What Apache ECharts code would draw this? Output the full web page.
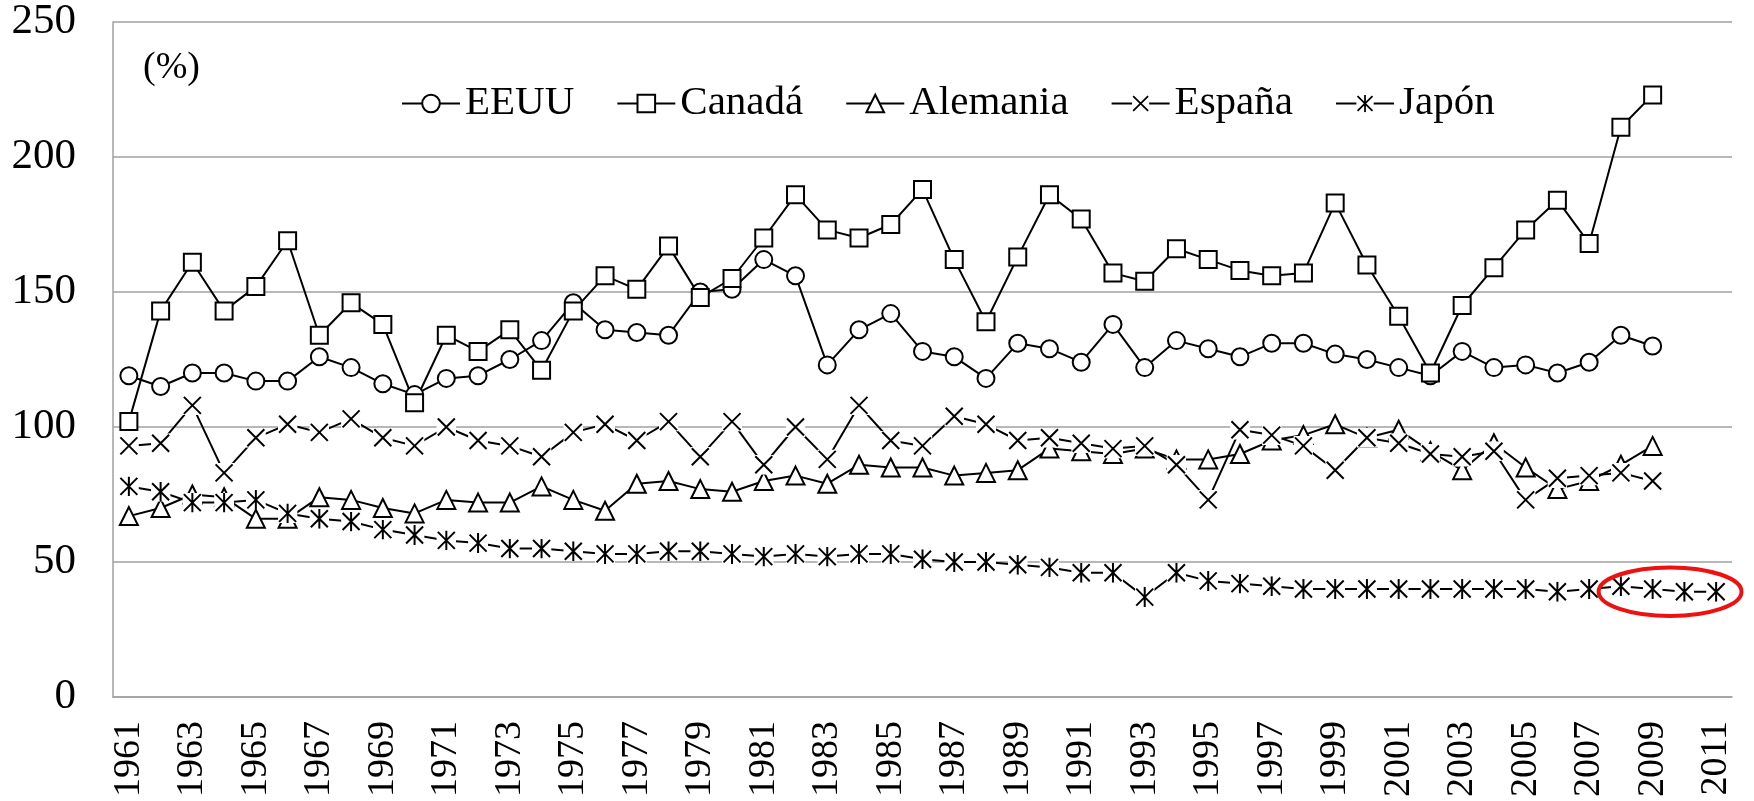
<!DOCTYPE html>
<html>
<head>
<meta charset="utf-8">
<style>
  html, body { margin: 0; padding: 0; background: #fff; }
  #chart { width: 1754px; height: 801px; }
</style>
<script src="https://cdn.jsdelivr.net/npm/echarts@6/dist/echarts.min.js"></script>
</head>
<body>
<div id="chart"></div>
<script>
var years = ["1961","1962","1963","1964","1965","1966","1967","1968","1969","1970",
  "1971","1972","1973","1974","1975","1976","1977","1978","1979","1980",
  "1981","1982","1983","1984","1985","1986","1987","1988","1989","1990",
  "1991","1992","1993","1994","1995","1996","1997","1998","1999","2000",
  "2001","2002","2003","2004","2005","2006","2007","2008","2009","2010","2011"];

var eeuu = [119,115,120,120,117,117,126,122,116,112,
  118,119,125,132,146,136,135,134,150,151,
  162,156,123,136,142,128,126,118,131,129,
  124,138,122,132,129,126,131,131,127,125,
  122,119,128,122,123,120,124,134,130,null,null];

var canada = [102,143,161,143,152,169,134,146,138,109,
  134,128,136,121,143,156,151,167,148,155,
  170,186,173,170,175,188,162,139,163,186,
  177,157,154,166,162,158,156,157,183,160,
  141,120,145,159,173,184,168,211,223,null,null];

var alemania = [67,70,75,74,66,66,74,73,70,68,
  73,72,72,78,73,69,79,80,77,76,
  80,82,79,86,85,85,82,83,84,92,
  91,90,92,88,88,90,95,97,101,96,
  99,91,84,94,85,77,80,86,93,null,null];

var espana = [93,94,108,83,96,101,98,103,96,93,
  100,95,93,89,98,101,95,102,89,102,
  86,100,88,108,95,93,104,101,95,96,
  94,92,93,86,73,99,97,93,84,96,
  94,90,89,91,73,81,82,83,80,null,null];

var japon = [78,76,72,72,73,68,66,65,62,60,
  58,57,55,55,54,53,53,54,54,53,
  52,53,52,53,53,51,50,50,49,48,
  46,46,37,46,43,42,41,40,40,40,
  40,40,40,40,40,39,40,41,40,39,39];

var yTicks = [0, 50, 100, 150, 200, 250];
var serif = "'Liberation Serif', 'Times New Roman', serif";

// marker with white background, like the spreadsheet draws it
function maskedMark(d) {
  var svg = '<svg xmlns="http://www.w3.org/2000/svg" width="20" height="20" viewBox="0 0 20 20">' +
    '<rect width="20" height="20" fill="#fff"/>' +
    '<path d="' + d + '" stroke="#000" stroke-width="2" fill="none"/></svg>';
  return 'image://data:image/svg+xml;charset=utf-8,' + encodeURIComponent(svg);
}
var crossMark = maskedMark("M1.5,1.5L18.5,18.5M18.5,1.5L1.5,18.5");
var starMark = maskedMark("M1.5,1.5L18.5,18.5M18.5,1.5L1.5,18.5M10,0L10,20");

function mkSeries(name, data, symbol, size) {
  return {
    name: name,
    type: "line",
    data: data,
    symbol: symbol,
    symbolSize: size,
    showAllSymbol: true,
    connectNulls: false,
    lineStyle: { color: "#000", width: 2 },
    itemStyle: { color: "#fff", borderColor: "#000", borderWidth: 2 },
    emphasis: { disabled: true }
  };
}

var chart = echarts.init(document.getElementById("chart"));
var option = {
  animation: false,
  backgroundColor: "#fff",
  grid: { left: 113, right: 22, top: 22, bottom: 104, containLabel: false },
  legend: {
    left: 396,
    top: 78,
    itemWidth: 58,
    itemHeight: 22,
    itemGap: 42,
    textStyle: { fontFamily: serif, fontSize: 41, color: "#000" },
    data: ["EEUU", "Canadá", "Alemania", "España", "Japón"]
  },
  xAxis: {
    type: "category",
    data: years,
    boundaryGap: true,
    axisLine: { show: true, lineStyle: { color: "#a0a0a0", width: 1.5 } },
    axisTick: { show: false },
    axisLabel: {
      interval: 1,
      rotate: 90,
      margin: 24,
      fontFamily: serif,
      fontSize: 38,
      color: "#000"
    }
  },
  yAxis: {
    type: "value",
    min: yTicks[0],
    max: yTicks[yTicks.length - 1],
    interval: 50,
    axisLine: { show: true, lineStyle: { color: "#a0a0a0", width: 1.5 } },
    axisTick: { show: false },
    splitLine: { show: true, lineStyle: { color: "#a0a0a0", width: 1.5 } },
    axisLabel: {
      margin: 37,
      fontFamily: serif,
      fontSize: 43,
      color: "#000"
    }
  },
  series: [
    mkSeries("EEUU", eeuu, "circle", 17),
    mkSeries("Canadá", canada, "rect", 17),
    mkSeries("Alemania", alemania, "triangle", 18),
    mkSeries("España", espana, crossMark, 20),
    mkSeries("Japón", japon, starMark, 20)
  ]
};
chart.setOption(option);

// red ellipse round the last Japan points, placed through the axes
var a = chart.convertToPixel({ gridIndex: 0 }, [48, 39]);
var b = chart.convertToPixel({ gridIndex: 0 }, [49, 30]);
var step = b[0] - a[0];
var unit = (b[1] - a[1]) / 9;
chart.setOption({
  graphic: [
    {
      type: "text",
      left: 143,
      top: 49,
      style: { text: "(%)", font: "38px " + serif, fill: "#000" }
    },
    {
      type: "ellipse",
      shape: { cx: a[0] + 0.55 * step, cy: a[1], rx: 2.25 * step, ry: 9 * unit },
      style: { fill: "none", stroke: "#ee1111", lineWidth: 4 },
      z: 100
    }
  ]
});
</script>
</body>
</html>
